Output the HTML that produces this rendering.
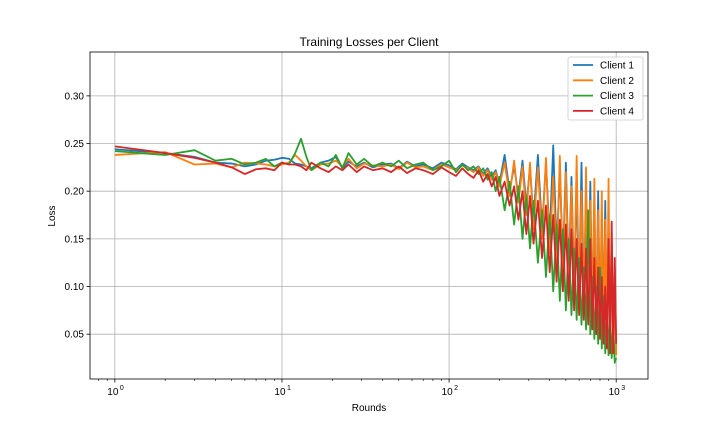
<!DOCTYPE html>
<html><head><meta charset="utf-8"><style>
body{margin:0;background:#fff;}
svg{display:block;font-family:"Liberation Sans","DejaVu Sans",sans-serif;}
</style></head><body>
<svg id="chart" width="720" height="432" viewBox="0 0 720 432" xmlns="http://www.w3.org/2000/svg">
<rect width="720" height="432" fill="#fff"/>
<text x="369" y="46" font-size="12" text-anchor="middle">Training Losses per Client</text>
<g id="grid"></g>
<g id="series"></g>
<rect x="90" y="52" width="558" height="327" fill="none" stroke="#000" stroke-width="0.8"/>
<g id="axes"></g>
<text x="369" y="411" font-size="10" text-anchor="middle">Rounds</text>
<text x="0" y="0" font-size="10" text-anchor="middle" transform="translate(55,216) rotate(-90)">Loss</text>
<g id="legend"></g>
</svg>
<script>
const rounds=[1,2,3,4,5,6,7,8,9,10,11,12,13,14,15,17,19,21,23,25,28,31,35,40,45,50,56,63,70,80,90,100,110,120,130,140,150,160,170,180,190,200,215,230,245,260,275,290,305,320,340,360,380,400,420,440,460,480,500,520,540,560,580,600,620,640,660,680,700,720,740,760,780,800,820,840,860,880,900,920,940,960,980,1000];
const client1=[.244,.240,.236,.230,.229,.226,.228,.232,.233,.235,.234,.229,.228,.226,.224,.230,.232,.236,.224,.231,.226,.230,.225,.228,.229,.224,.231,.226,.228,.224,.230,.227,.223,.229,.225,.222,.226,.218,.224,.215,.222,.208,.238,.200,.226,.195,.232,.185,.225,.170,.238,.160,.230,.150,.248,.140,.220,.125,.230,.110,.215,.100,.205,.090,.230,.085,.190,.075,.210,.070,.180,.065,.200,.060,.170,.055,.190,.050,.160,.045,.140,.040,.120,.030];
const client2=[.238,.241,.228,.229,.225,.230,.229,.228,.226,.228,.230,.238,.232,.226,.222,.228,.229,.232,.226,.234,.224,.229,.227,.226,.228,.223,.230,.225,.226,.222,.228,.225,.222,.227,.224,.220,.225,.216,.222,.212,.220,.205,.230,.195,.232,.188,.226,.175,.230,.160,.225,.150,.235,.135,.215,.120,.237,.110,.220,.095,.205,.085,.237,.080,.200,.070,.225,.065,.190,.060,.213,.055,.180,.050,.200,.045,.170,.040,.213,.035,.150,.030,.100,.028];
const client3=[.242,.238,.243,.232,.234,.228,.230,.234,.226,.230,.228,.240,.255,.236,.222,.230,.226,.238,.224,.240,.228,.234,.226,.230,.226,.232,.224,.228,.230,.222,.226,.232,.220,.228,.222,.226,.218,.224,.212,.220,.200,.215,.180,.210,.165,.205,.150,.195,.140,.190,.125,.180,.110,.175,.095,.165,.085,.160,.075,.150,.070,.140,.065,.130,.060,.120,.055,.180,.050,.110,.045,.100,.040,.120,.035,.090,.030,.080,.028,.070,.025,.060,.020,.025];
const client4=[.247,.240,.235,.230,.225,.218,.223,.224,.222,.230,.228,.228,.226,.222,.230,.224,.220,.226,.222,.228,.220,.226,.222,.224,.220,.226,.219,.224,.222,.218,.225,.220,.216,.224,.218,.214,.222,.210,.218,.205,.215,.195,.210,.185,.205,.170,.200,.155,.195,.145,.190,.130,.185,.115,.175,.105,.170,.095,.165,.085,.160,.075,.150,.070,.145,.065,.140,.060,.150,.055,.130,.050,.120,.045,.110,.040,.100,.035,.150,.030,.168,.030,.130,.040];
const seriesNames=["Client 1","Client 2","Client 3","Client 4"];
const yTicks=[0.05,0.10,0.15,0.20,0.25,0.30];
const xDecades=[1,10,100,1000];
const xDecadeLabels=["0","1","2","3"];

const colors=["#1f77b4","#ff7f0e","#2ca02c","#d62728"];
const NS="http://www.w3.org/2000/svg";
const X0=90,X1=648,Y0=52,Y1=379;
const lx0=Math.log10(0.71),lx1=Math.log10(1550);
const yMin=0.003,yMax=0.346;
function xs(v){return X0+(Math.log10(v)-lx0)/(lx1-lx0)*(X1-X0);}
function ys(v){return Y1-(v-yMin)/(yMax-yMin)*(Y1-Y0);}
function mk(tag,attrs,parent){const e=document.createElementNS(NS,tag);for(const k in attrs)e.setAttribute(k,attrs[k]);parent.appendChild(e);return e;}
const grid=document.getElementById('grid'),axes=document.getElementById('axes');
yTicks.forEach(t=>{
  const y=ys(t);
  const g=mk('line',{x1:X0,x2:X1,y1:y,y2:y,stroke:'#b0b0b0','stroke-width':0.8},grid);
  
  
  mk('line',{x1:X0-3.5,x2:X0,y1:y,y2:y,stroke:'#000','stroke-width':0.8},axes);
  const tx=mk('text',{x:X0-6,y:y+3.5,'font-size':10,'text-anchor':'end'},axes);
  tx.textContent=t.toFixed(2);
  
  
});
xDecades.forEach((d,i)=>{
  const x=xs(d);
  const g=mk('line',{x1:x,x2:x,y1:Y0,y2:Y1,stroke:'#b0b0b0','stroke-width':0.8},grid);
  
  
  mk('line',{x1:x,x2:x,y1:Y1,y2:Y1+3.5,stroke:'#000','stroke-width':0.8},axes);
  const tx=mk('text',{x:x-2,y:Y1+16,'font-size':10,'text-anchor':'middle'},axes);
  tx.textContent='10';
  
  
  const sp=mk('text',{x:x+5,y:Y1+11,'font-size':7,'text-anchor':'start'},axes);
  sp.textContent=xDecadeLabels[i];
  for(let m=2;m<=9;m++){const v=d*m;if(v<1550){const mx=xs(v);mk('line',{x1:mx,x2:mx,y1:Y1,y2:Y1+2,stroke:'#000','stroke-width':0.6},axes);}}
});
mk('line',{x1:xs(0.8),x2:xs(0.8),y1:Y1,y2:Y1+2,stroke:'#000','stroke-width':0.6},axes);
mk('line',{x1:xs(0.9),x2:xs(0.9),y1:Y1,y2:Y1+2,stroke:'#000','stroke-width':0.6},axes);
const ser=document.getElementById('series');
[client1,client2,client3,client4].forEach((vals,i)=>{
  const d=vals.map((v,j)=>(j?'L':'M')+xs(rounds[j]).toFixed(2)+','+ys(v).toFixed(2)).join('');
  const p=mk('path',{d:d,fill:'none',stroke:colors[i],'stroke-width':1.8,'stroke-linejoin':'round'},ser);
  
  
});
const lg=document.getElementById('legend');
mk('rect',{x:568,y:57,width:75,height:63,rx:2,fill:'#fff','fill-opacity':0.8,stroke:'#ccc','stroke-width':0.8},lg);
seriesNames.forEach((n,i)=>{
  const y=65+i*15.3;
  const g=mk('g',{},lg);
  
  
  mk('line',{x1:573,x2:593,y1:y,y2:y,stroke:colors[i],'stroke-width':1.8},g);
  const t=mk('text',{x:600,y:y+3.5,'font-size':10},g);
  t.textContent=n;
});
</script>
</body></html>
